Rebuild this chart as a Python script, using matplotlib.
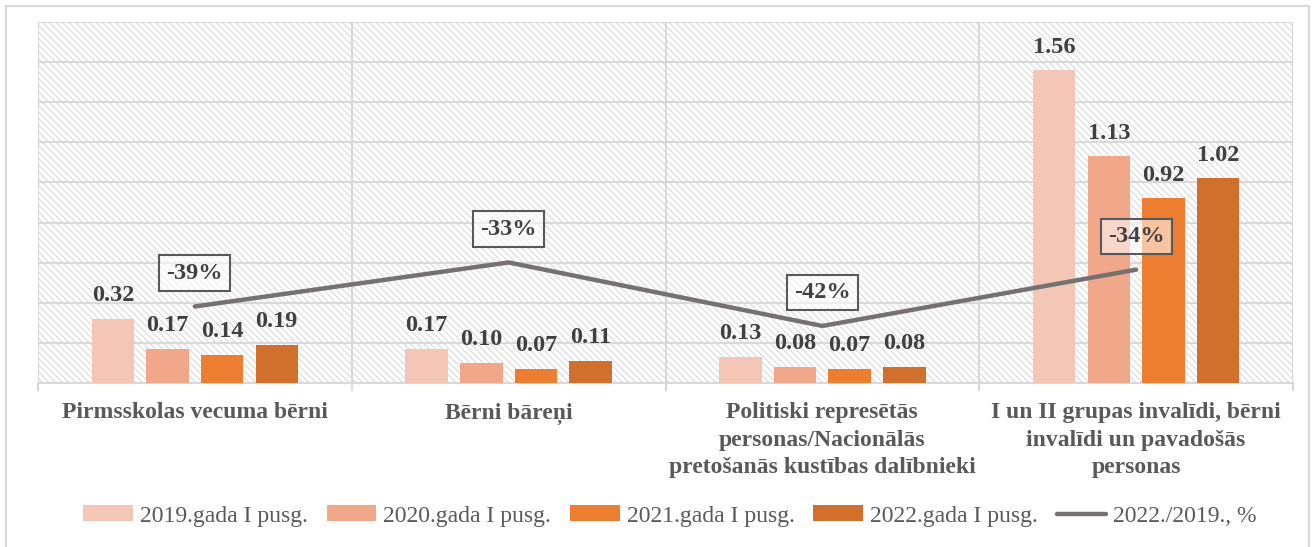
import matplotlib
matplotlib.use("Agg")
import matplotlib.pyplot as plt
import numpy as np
from matplotlib.patches import Rectangle

# data
categories = [
    "Pirmsskolas vecuma bērni",
    "Bērni bāreņi",
    "Politiski represētās\npersonas/Nacionālās\npretošanās kustības dalībnieki",
    "I un II grupas invalīdi, bērni\ninvalīdi un pavadošās\npersonas",
]
series_names = ["2019.gada I pusg.", "2020.gada I pusg.", "2021.gada I pusg.", "2022.gada I pusg."]
v2019 = [0.32, 0.17, 0.13, 1.56]
v2020 = [0.17, 0.10, 0.08, 1.13]
v2021 = [0.14, 0.07, 0.07, 0.92]
v2022 = [0.19, 0.11, 0.08, 1.02]
change_name = "2022./2019., %"
change = [-0.394, -0.333, -0.421, -0.343]
change_labels = ["-39%", "-33%", "-42%", "-34%"]

colors = ["#F4C6B6", "#F0A78A", "#ED7D31", "#D1702C"]
line_color = "#767171"
grid_color = "#D9D9D9"

plt.rcParams["font.family"] = ["Liberation Serif", "DejaVu Serif"]
plt.rcParams["hatch.linewidth"] = 0.8

fig = plt.figure(figsize=(13.14, 5.47), dpi=100)
ax = fig.add_axes([38/1314, 1 - 383/547, (1293-38)/1314, (383-22)/547])

# hatched background
ax.set_facecolor("white")
ax.add_patch(Rectangle((0, 0), 1, 1, transform=ax.transAxes, facecolor="white",
                       edgecolor="#DADADA", hatch="\\\\\\\\\\", lw=0, zorder=0))

x = np.arange(len(categories))
step = 0.174
width = 0.1355
all_vals = [v2019, v2020, v2021, v2022]
for i, (vals, col, name) in enumerate(zip(all_vals, colors, series_names)):
    pos = x + (i - 1.5) * step
    ax.bar(pos, vals, width, color=col, label=name, zorder=3)
    for xx, v in zip(pos, vals):
        ax.annotate(f"{v:.2f}", (xx, v), xytext=(0, 9), textcoords="offset points",
                    ha="center", va="bottom", fontsize=17.5, fontweight="bold",
                    color="#404040", zorder=5)

ax.set_xlim(-0.5, 3.5)
ax.set_ylim(0, 1.8)
ax.set_yticks(np.arange(0, 1.81, 0.2))
ax.set_yticklabels([])
ax.tick_params(axis="y", length=0)
ax.set_xticks(np.arange(-0.5, 3.6, 1))
ax.set_xticklabels([])
ax.set_xticks(x, minor=True)
ax.set_xticklabels(categories, minor=True, fontsize=17, fontweight="bold",
                   color="#595959", va="top", linespacing=1.4)
ax.tick_params(axis="x", which="major", length=6, color=grid_color, width=1.5)
ax.tick_params(axis="x", which="minor", length=0, pad=14)
ax.grid(True, which="major", color=grid_color, lw=1.5, zorder=1)
ax.set_axisbelow(True)
for s in ["top", "left", "right"]:
    ax.spines[s].set_visible(False)
ax.spines["bottom"].set_color(grid_color)
ax.spines["bottom"].set_linewidth(1.5)

# secondary axis for the change line
ax2 = ax.twinx()
ax2.set_ylim(-0.5, 0)
ax2.set_yticks([])
for s in ax2.spines.values():
    s.set_visible(False)
ln, = ax2.plot(x, change, color=line_color, lw=3.2, label=change_name, zorder=4,
               solid_capstyle="round")
for xx, v, t in zip(x, change, change_labels):
    ax2.annotate(t, (xx, v), xytext=(0, 24), textcoords="offset points",
                 ha="center", va="center", fontsize=17.5, fontweight="bold", color="#404040",
                 bbox=dict(boxstyle="square,pad=0.3", facecolor=(1, 1, 1, 0.55),
                           edgecolor="#595959", lw=1.5))

handles = ax.get_legend_handles_labels()[0] + [ln]
labels = series_names + [change_name]
fig.legend(handles, labels, loc="center", bbox_to_anchor=(670/1314, 1 - 516/547),
           ncol=5, frameon=False, fontsize=17, labelcolor="#595959",
           handlelength=2.1, handleheight=0.65, handletextpad=0.3, columnspacing=0.8)

# outer chart border
fig.add_artist(Rectangle((6/1314, -0.05), (1309-6)/1314, 1.05 - 6/547,
                         transform=fig.transFigure, fill=False, edgecolor=grid_color, lw=1.5))

fig.savefig("out.png", dpi=100)
